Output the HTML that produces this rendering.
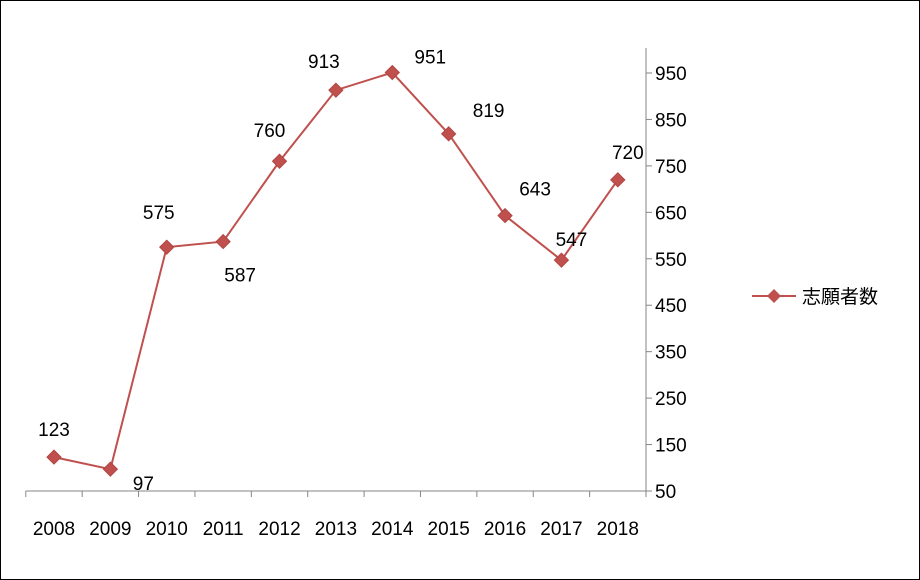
<!DOCTYPE html>
<html><head><meta charset="utf-8"><style>
body{margin:0;background:#fff}
svg{display:block;font-family:"Liberation Sans","Noto Sans CJK JP",sans-serif}
</style></head><body>
<svg id="c" width="920" height="580">
<rect x="0.5" y="0.5" width="919" height="579" fill="#fff" stroke="#000"/>
</svg>
<script>
const categories=["2008","2009","2010","2011","2012","2013","2014","2015","2016","2017","2018"];
const values=[123,97,575,587,760,913,951,819,643,547,720];
const yTicks=[50,150,250,350,450,550,650,750,850,950];
const labelDx=[0,33,-8,17,-10,-12,38,40,30,10,10];
const labelDy=[-28,14,-35,33,-31,-29,-16,-24,-27,-21,-28];
const svg=document.getElementById('c');
const NS='http://www.w3.org/2000/svg';
const x0=25.8,x1=646,yBase=491,yTop=73,yMin=50,yMax=950;
const bw=(x1-x0)/categories.length;
const xs=i=>x0+bw*(i+0.5);
const ys=v=>yBase-(v-yMin)/(yMax-yMin)*(yBase-yTop);
function mk(t,a,p){const e=document.createElementNS(NS,t);for(const k in a)e.setAttribute(k,a[k]);(p||svg).appendChild(e);return e;}
let ax=mk('line',{x1:x0,y1:yBase,x2:x1,y2:yBase,stroke:'#868686'});


let ay=mk('line',{x1:x1,y1:yBase,x2:x1,y2:yTop-25,stroke:'#868686'});


for(let i=0;i<=categories.length;i++){
 let t=mk('line',{x1:x0+bw*i,y1:yBase,x2:x0+bw*i,y2:yBase+6,stroke:'#868686'});
 
 
}
categories.forEach((c,i)=>{
 let t=mk('text',{x:xs(i),y:535,'text-anchor':'middle','font-size':19,fill:'#000'});
 t.textContent=c;
 
 
});
yTicks.forEach(v=>{
 let t=mk('line',{x1:x1,y1:ys(v),x2:x1+6,y2:ys(v),stroke:'#868686'});
 
 
 let l=mk('text',{x:655,y:ys(v)+7,'font-size':19,fill:'#000'});
 l.textContent=v;
 
 
});
let pl=mk('polyline',{points:values.map((v,i)=>xs(i)+','+ys(v)).join(' '),fill:'none',stroke:'#c0504d','stroke-width':2});


values.forEach((v,i)=>{
 const x=xs(i),y=ys(v);
 let m=mk('polygon',{points:`${x},${y-7} ${x+7},${y} ${x},${y+7} ${x-7},${y}`,fill:'#c0504d',stroke:'#b04542'});
 
 
 let t=mk('text',{x:x+labelDx[i],y:y+labelDy[i]+7,'text-anchor':'middle','font-size':19,fill:'#000'});
 t.textContent=v;
 
 
});
let lg=mk('g',{});


mk('line',{x1:752,y1:296,x2:796,y2:296,stroke:'#c0504d','stroke-width':2},lg);
mk('polygon',{points:'774,289 781,296 774,303 767,296',fill:'#c0504d'},lg);
let lt=mk('text',{x:802,y:303,'font-size':19,fill:'#000'},lg);
lt.textContent='志願者数';
</script>
</body></html>
